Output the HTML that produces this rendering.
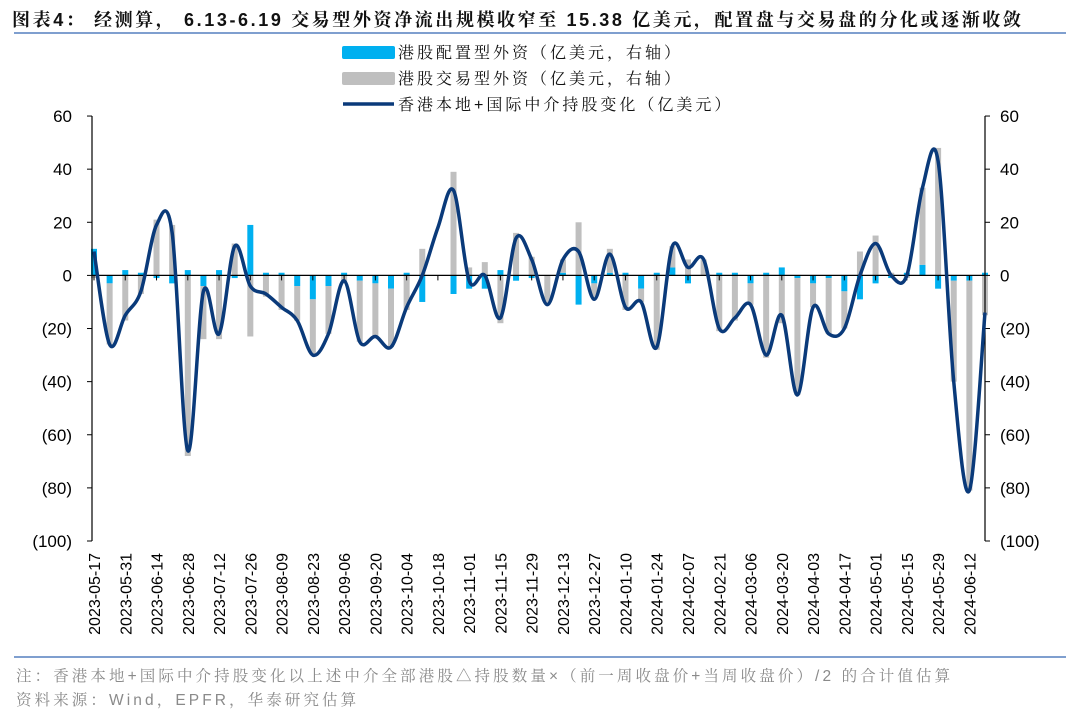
<!DOCTYPE html>
<html><head><meta charset="utf-8">
<style>
html,body{margin:0;padding:0;background:#fff;}
body{width:1080px;height:718px;overflow:hidden;position:relative;font-family:"Liberation Sans","Noto Serif CJK SC",serif;}
.t{position:absolute;white-space:nowrap;}
</style></head><body>
<div class="t" style="left:12px;top:6px;font-size:18px;font-weight:bold;color:#111;letter-spacing:2.6px;font-family:'Liberation Sans','Noto Serif CJK SC',serif;">图表4：&nbsp;经测算，&nbsp;6.13-6.19 交易型外资净流出规模收窄至 15.38 亿美元，配置盘与交易盘的分化或逐渐收敛</div>
<div style="position:absolute;left:14px;top:32px;width:1052px;height:2px;background:#7f9fcf;"></div>
<div style="position:absolute;left:14px;top:656px;width:1052px;height:1.5px;background:#7f9fcf;"></div>
<div class="t" style="left:16px;top:664px;font-size:15.5px;color:#8a8a8a;letter-spacing:3.1px;">注：香港本地+国际中介持股变化以上述中介全部港股△持股数量×（前一周收盘价+当周收盘价）/2 的合计值估算</div>
<div class="t" style="left:16px;top:688px;font-size:15.5px;color:#8a8a8a;letter-spacing:3.1px;">资料来源：Wind，EPFR，华泰研究估算</div>
<svg id="c" width="1080" height="718" style="position:absolute;left:0;top:0" xmlns="http://www.w3.org/2000/svg"></svg>
<script>
var cfg=[10,-3,2,1,-1,-3,2,-4,2,-1,19,1,1,-4,-9,-4,1,-2,-3,-5,1,-10,0,-7,-5,-5,2,-2,-1,0,1,-11,-3,1,1,-5,1,3,-3,0,1,1,-3,1,3,-1,-3,-1,-6,-9,-3,-1,1,4,-5,-2,-2,1];
var line=[9,-26,-15,-6,19,16,-66,-6,-22,11,-4,-7,-12,-17,-30,-22,-2,-25,-23,-27,-12,0,18,32,-2,0,-16,14,6,-11,6,9,-9,8,-12,-10,-27,11,3,6,-20,-16,-11,-30,-15,-45,-12,-22,-20,0,12,0,0,33,43,-40,-81,-14];
var trade=line.map(function(v,i){return v-cfg[i];});
trade[7]=-20;trade[16]=-3;trade[22]=0;trade[33]=9;trade[54]=48;trade[4]=21;
var N=58,x0=94,dx=(985-94)/57,y0=275.4,k=2.656;
function X(i){return x0+dx*i;} function Y(v){return y0-v*k;}
var s='';
for(var i=0;i<N;i++){
 var c=cfg[i],t=trade[i],x=X(i)-3;
 var pos=0,neg=0;
 function bar(v,col){var a,b; if(v>=0){a=pos;b=pos+v;pos=b;}else{a=neg;b=neg+v;neg=b;}
  var ya=Y(Math.max(a,b)),yb=Y(Math.min(a,b)); if(yb-ya<0.5)return;
  s+='<rect x="'+x+'" y="'+ya+'" width="6" height="'+(yb-ya)+'" fill="'+col+'"/>';}
 bar(c,'#00b0f0'); bar(t,'#bfbfbf');
}
s+='<line x1="92" y1="116" x2="92" y2="541" stroke="#000" stroke-width="1.2"/>';
s+='<line x1="985" y1="116" x2="985" y2="541" stroke="#000" stroke-width="1.2"/>';
s+='<line x1="92" y1="'+y0+'" x2="985" y2="'+y0+'" stroke="#000" stroke-width="1.2"/>';
var labs=[60,40,20,0,-20,-40,-60,-80,-100];
labs.forEach(function(v){var y=Y(v);var txt=v<0?'('+(-v)+')':''+v;
 s+='<line x1="87" y1="'+y+'" x2="92" y2="'+y+'" stroke="#000"/>';
 s+='<line x1="985" y1="'+y+'" x2="990" y2="'+y+'" stroke="#000"/>';
 s+='<text x="72" y="'+(y+6)+'" font-size="17" text-anchor="end" font-family="Liberation Sans">'+txt+'</text>';
 s+='<text x="1000" y="'+(y+6)+'" font-size="17" font-family="Liberation Sans">'+txt+'</text>';});
var dates=['2023-05-17','2023-05-31','2023-06-14','2023-06-28','2023-07-12','2023-07-26','2023-08-09','2023-08-23','2023-09-06','2023-09-20','2023-10-04','2023-10-18','2023-11-01','2023-11-15','2023-11-29','2023-12-13','2023-12-27','2024-01-10','2024-01-24','2024-02-07','2024-02-21','2024-03-06','2024-03-20','2024-04-03','2024-04-17','2024-05-01','2024-05-15','2024-05-29','2024-06-12'];
dates.forEach(function(d,j){var x=X(2*j);
 s+='<line x1="'+x+'" y1="'+y0+'" x2="'+x+'" y2="'+(y0+5)+'" stroke="#000"/>';
 s+='<text transform="translate('+(x+6)+',553) rotate(-90)" font-size="16" text-anchor="end" font-family="Liberation Sans">'+d+'</text>';});
var P=line.map(function(v,i){return [X(i),Y(v)];});
var d='M'+P[0][0]+','+P[0][1];
for(var i=0;i<N-1;i++){var p0=P[Math.max(i-1,0)],p1=P[i],p2=P[i+1],p3=P[Math.min(i+2,N-1)];
 var c1x=p1[0]+(p2[0]-p0[0])/6,c1y=p1[1]+(p2[1]-p0[1])/6,c2x=p2[0]-(p3[0]-p1[0])/6,c2y=p2[1]-(p3[1]-p1[1])/6;
 d+=' C'+c1x+','+c1y+' '+c2x+','+c2y+' '+p2[0]+','+p2[1];}
s+='<path d="'+d+'" fill="none" stroke="#0a3a7a" stroke-width="3.5" stroke-linejoin="round"/>';
s+='<rect x="342" y="46" width="53" height="13" rx="2" fill="#00b0f0"/>';
s+='<rect x="342" y="72" width="53" height="13" rx="2" fill="#bfbfbf"/>';
s+='<line x1="343" y1="104" x2="394" y2="104" stroke="#0a3a7a" stroke-width="3.5"/>';
var lf='font-size="16" letter-spacing="3" font-family="Liberation Sans,Noto Serif CJK SC,serif" fill="#111"';
s+='<text x="398" y="58" '+lf+'>港股配置型外资（亿美元，右轴）</text>';
s+='<text x="398" y="84" '+lf+'>港股交易型外资（亿美元，右轴）</text>';
s+='<text x="398" y="110" '+lf+'>香港本地+国际中介持股变化（亿美元）</text>';
document.getElementById('c').innerHTML=s;
</script>
</body></html>
